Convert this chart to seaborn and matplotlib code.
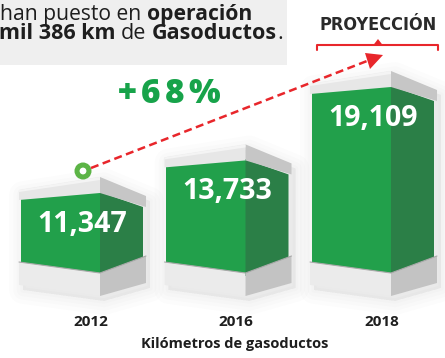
import matplotlib
matplotlib.use("Agg")
import matplotlib.pyplot as plt
from matplotlib.patches import Polygon, Circle, Rectangle
from matplotlib.lines import Line2D
from matplotlib.transforms import Affine2D
import pandas as pd
import seaborn as sns

# ---- data -------------------------------------------------------------
years = ["2012", "2016", "2018"]
km = [11347, 13733, 19109]
value_labels = ["11,347", "13,733", "19,109"]
headline_top = [("han puesto en", "normal"), ("operación", "bold")]
headline_bottom = [("mil 386 km", "bold"), ("de", "normal"),
                   ("Gasoductos", "bold"), (".", "normal")]
axis_title = "Kilómetros de gasoductos"
projection_title = "PROYECCIÓN"

# ---- style ------------------------------------------------------------
GREEN = "#22a04b"
GREEN_SIDE = "#2b7f47"
CAP_FRONT = "#e7e7e7"
CAP_SIDE = "#c6c6c6"
BASE_FRONT = "#ebebeb"
BASE_SIDE = "#c3c3c3"
RED = "#e8262b"
INK = "#1e1e1e"
PANEL = "#efefef"

W, H = 445, 358
sns.set_theme(style="white")
plt.rcParams["font.family"] = ["Open Sans", "DejaVu Sans"]

fig = plt.figure(figsize=(W / 100, H / 100), dpi=100)
fig.patch.set_facecolor("white")

# helper transform: figure pixels, x rightwards, y downwards from top-left
PX = Affine2D().scale(1 / W, -1 / H).translate(0, 1) + fig.transFigure

floor_px = 276          # bars are cut here, the pedestals hide the cut
ax = fig.add_axes([0, 1 - floor_px / H, 1, floor_px / H])
ax.set_facecolor("none")

df = pd.DataFrame({"year": years, "km": km})
sns.barplot(data=df, x="year", y="km", color=GREEN, saturation=1,
            width=0.543, linewidth=0, ax=ax, zorder=3)

# truncated value axis: 0.013656 px per km, zero sits below the floor
px_per_km = 0.013656
zero_px = 346.96
ax.set_ylim((zero_px - floor_px) / px_per_km, zero_px / px_per_km)
step_px, first_px = 145.5, 60.5
ax.set_xlim(-first_px / step_px, (W - first_px) / step_px)

sns.despine(ax=ax, left=True, bottom=True)
ax.set_yticks([])
ax.set_ylabel("")
ax.set_xticks([i + 30 / step_px for i in range(len(years))], labels=years)
ax.tick_params(axis="x", length=0, pad=28, labelsize=11, labelcolor=INK)
for t in ax.get_xticklabels():
    t.set_fontweight("bold")
ax.set_xlabel(axis_title, fontsize=10.5, fontweight="bold", color=INK)
ax.xaxis.set_label_coords(235 / W, (floor_px - 337) / floor_px)


def poly(pts, color, z, **kw):
    ax.add_patch(Polygon(pts, closed=True, facecolor=color, edgecolor="none",
                         transform=PX, clip_on=False, zorder=z, **kw))


to_px = ax.transData + PX.inverted()
for bar, label in zip(ax.patches, value_labels):
    (xl, yt), (xc, _) = to_px.transform(
        [(bar.get_x(), bar.get_height()),
         (bar.get_x() + bar.get_width(), 0)])
    xr = xc + 43
    # soft shadow around the whole block
    outline = [(xl - 2, yt - 2), (xc, yt - 15), (xr + 3, yt + 4),
               (xr + 3, 283), (xc, 296), (xl - 2, 285)]
    shifted = [(x + 4, y + 5) for x, y in outline]
    for lw in (20, 14, 9, 4):
        ax.add_patch(Polygon(shifted, closed=True, facecolor="#000000",
                             edgecolor="#000000", lw=lw, alpha=0.012,
                             joinstyle="round", transform=PX,
                             clip_on=False, zorder=1))
    # dark green side
    poly([(xc, yt), (xr, yt + 15), (xr, 262), (xc, 276)], GREEN_SIDE, 4)
    # cap
    poly([(xl - 2, yt - 2), (xc, yt - 15), (xc, yt + 1), (xl - 2, yt + 8)],
         CAP_FRONT, 5)
    poly([(xc, yt - 15), (xr + 3, yt + 4), (xr + 3, yt + 15), (xc, yt + 1)],
         CAP_SIDE, 5)
    poly([(xl - 2, yt - 2), (xc, yt - 15), (xc, yt - 12), (xl - 2, yt)],
         "#f4f4f4", 5)
    # pedestal
    poly([(xl - 2, 262), (xc, 273), (xc, 296), (xl - 2, 285)], BASE_FRONT, 5)
    poly([(xc, 273), (xr + 3, 256), (xr + 3, 283), (xc, 296)], BASE_SIDE, 5)
    ax.add_line(Line2D([xl - 2, xc, xr + 3], [262, 273, 256], color="#a9a9a9",
                       lw=0.8, transform=PX, clip_on=False, zorder=6))
    # value label
    ax.text((xl + xr) / 2, yt + 32, label, transform=PX, ha="center",
            va="center", color="white", fontsize=20.5, fontweight="bold",
            zorder=8)

# ---- headline panel ---------------------------------------------------
ax.add_patch(Rectangle((0, 0), 287, 65, facecolor=PANEL, edgecolor="none",
                       transform=PX, clip_on=False, zorder=0))


def write_line(segments, x_right, y_base, gaps_after, size):
    """Right-aligned run of mixed-weight words; gaps_after[i] is the space
    (points) that follows segment i."""
    prev = None
    for (txt, weight), gap in zip(reversed(segments), reversed(gaps_after)):
        if prev is None:
            prev = ax.text(x_right, y_base, txt, transform=PX, ha="right",
                           va="baseline", fontsize=size, fontweight=weight,
                           color=INK, zorder=7)
        else:
            prev = ax.annotate(txt, xy=(0, 0), xycoords=prev,
                               xytext=(-gap, 0), textcoords="offset points",
                               ha="right", va="bottom", fontsize=size,
                               fontweight=weight, color=INK, zorder=7)


write_line(headline_top, 252, 20, [4.0, 0], 15.2)
write_line(headline_bottom, 283, 39, [4.0, 4.0, 0, 0], 15.5)

# ---- growth annotation ------------------------------------------------
growth = f"+{round((km[-1] / km[0] - 1) * 100)}%"
prev = None
for ch in growth:
    if prev is None:
        prev = ax.text(118, 103, ch, transform=PX, ha="left", va="baseline",
                       fontsize=24, fontweight="heavy", color="#17a34a",
                       zorder=7)
    else:
        prev = ax.annotate(ch, xy=(1, 0), xycoords=prev, xytext=(3, 0),
                           textcoords="offset points", ha="left",
                           va="bottom", fontsize=24, fontweight="heavy",
                           color="#17a34a", zorder=7)

ax.add_patch(Circle((83, 171), 8.5, facecolor="#5cb446", edgecolor="none",
                    transform=PX, clip_on=False, zorder=7))
ax.add_patch(Circle((83, 171), 3.4, facecolor="white", edgecolor="none",
                    transform=PX, clip_on=False, zorder=7))
ax.add_line(Line2D([91, 367], [168, 61], color=RED, lw=1.8,
                   linestyle=(0, (3.2, 1.8)), transform=PX, clip_on=False,
                   zorder=7))
poly([(383, 55), (365, 53), (370, 69)], RED, 7)

# ---- projection bracket -----------------------------------------------
ax.text(378, 30, projection_title, transform=PX, ha="center",
        va="baseline", fontsize=13, fontweight="bold", fontstretch="condensed",
        color="#2a2a2a", family="DejaVu Sans", zorder=7)
ax.add_line(Line2D([317, 317, 438, 438], [50, 45, 45, 50], color=RED, lw=1.5,
                   transform=PX, clip_on=False, zorder=7))
poly([(373, 45.5), (378, 39), (383, 45.5)], RED, 7)

fig.savefig("out.png", dpi=100, facecolor="white")
